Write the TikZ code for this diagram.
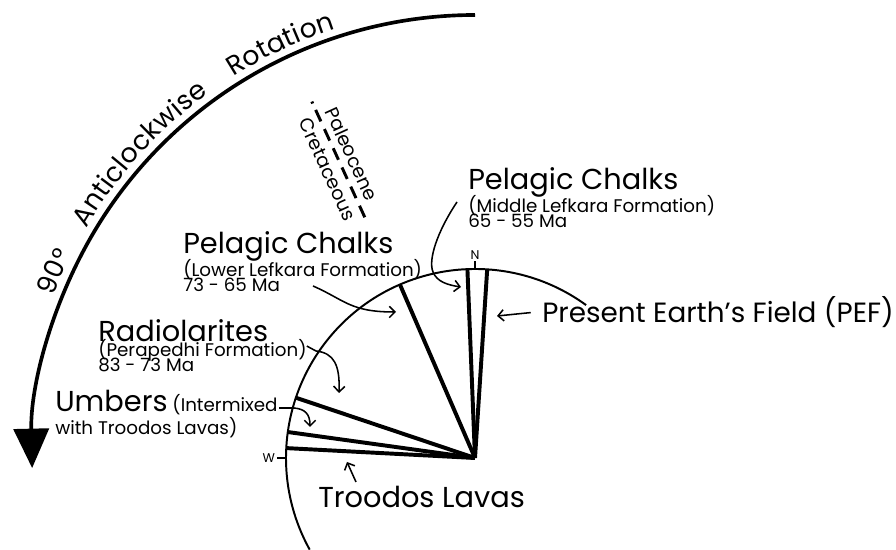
\documentclass[tikz,border=0pt]{standalone}
\usepackage{fontspec}
\setmainfont{Poppins}
\usetikzlibrary{arrows.meta,positioning,calc,decorations.text}

\newcommand{\bigtext}{\fontsize{20.5}{22}\selectfont}
\newcommand{\arctext}{\fontsize{19}{21}\selectfont}
\newcommand{\smalltext}{\fontsize{13}{13}\selectfont}
\newcommand{\epochtext}{\fontsize{13.5}{14}\selectfont}
\newcommand{\tinytext}{\fontsize{9}{9}\selectfont}

\begin{document}
\begin{tikzpicture}[
  x=0.025cm, y=0.025cm,
  compass/.style={line width=1.4pt},
  radial/.style={line width=2.8pt},
  leader/.style={line width=1.1pt, -{Straight Barb[length=4pt,width=8pt]}},
  rocktext/.style={inner sep=0pt, anchor=base west, align=left, font=\smalltext},
  epoch/.style={inner sep=5pt, rotate=-65.4, font=\epochtext}
]
\useasboundingbox (0,0) rectangle (896,550);
\coordinate (C) at (475,92);

% rotation arrow and its label
\draw[line width=2.6pt, -{Triangle[width=25pt,length=28pt]}]
  ($(C)+(90:443)$) arc[start angle=90, end angle=181.3, radius=443];
\path[decorate, decoration={text along path, raise=6pt,
    text align={fit to path stretching spaces},
    text={|\arctext|90° Anticlockwise Rotation}}]
  ($(C)+(159:443)$) arc[start angle=159, end angle=108, radius=443];

% compass circle, N and W
\draw[compass] ($(C)+(54:189)$) arc[start angle=54, end angle=209, radius=189];
\draw[line width=0.8pt] ($(C)+(90:189)$) -- ++(0,8)
  node[above=1pt, inner sep=0pt, font=\tinytext] (north) {N};
\draw[line width=0.8pt] ($(C)+(180:189)$) -- ++(-9,0)
  node[left=1pt, inner sep=0pt, font=\tinytext] (west) {W};

% palaeomagnetic directions
\foreach \a in {86.3,92.3,113.4,161.4,172.1,177.0}
  \draw[radial] (C) -- ++(\a:189);

% Cretaceous/Paleocene boundary
\draw[line width=2.1pt, dash pattern=on 1.5pt off 5pt on 9pt off 6pt on 9pt off 6pt on 9pt off 6pt on 9pt off 6pt on 9pt off 6pt on 9pt off 6pt]
  ($(C)+(114.6:392)$) -- ($(C)+(114.6:262)$);
\node[epoch, anchor=south] (paleo) at ($(C)+(114.6:328)$) {Paleocene};
\node[epoch, anchor=north] (creta) at ($(C)+(114.6:324)$) {Cretaceous};

% rock units
\node[rocktext] (midpc) at (468,322) {{\bigtext Pelagic Chalks}\\[-2.5pt](Middle Lefkara Formation)\\[-2pt]65 - 55 Ma};
\node[rocktext] (lowpc) at (183,258) {{\bigtext Pelagic Chalks}\\[-2.5pt](Lower Lefkara Formation)\\[-2pt]73 - 65 Ma};
\node[rocktext] (radio) at (98,178) {{\bigtext Radiolarites}\\[-2.5pt](Perapedhi Formation)\\[-2pt]83 - 73 Ma};
\node[rocktext] (umber) at (55,115) {{\bigtext Umbers} (Intermixed\\[1pt]with Troodos Lavas)};
\node[rocktext, font=\bigtext] (lavas) at (318,42) {Troodos Lavas};
\node[rocktext, font=\fontsize{19.8}{22}\selectfont] (pef) at (542,227) {Present Earth’s Field (PEF)};

% leaders
\coordinate (midpc-to) at (461,263);
\coordinate (lowpc-to) at (396,238);
\coordinate (radio-to) at (339,157);
\coordinate (umber-to) at (310,123);
\coordinate (lavas-to) at (347,88);
\coordinate (pef-to) at (497,234);
\draw[leader] (457,348) .. controls (437,318) and (428,290) .. (433,278)
  .. controls (437,268) and (448,265) .. (midpc-to);
\draw[leader] (313,264) .. controls (345,250) and (350,238) .. (lowpc-to);
\draw[leader] (radio.east) -- (316,199) .. controls (334,197) and (340,185) .. (radio-to);
\draw[leader] (279,142) -- (294,142) .. controls (305,141) and (310,136) .. (umber-to);
\draw[leader] (356,68) -- (lavas-to);
\draw[leader] ([xshift=-8pt]pef.west) -- (pef-to);
\end{tikzpicture}
\end{document}
